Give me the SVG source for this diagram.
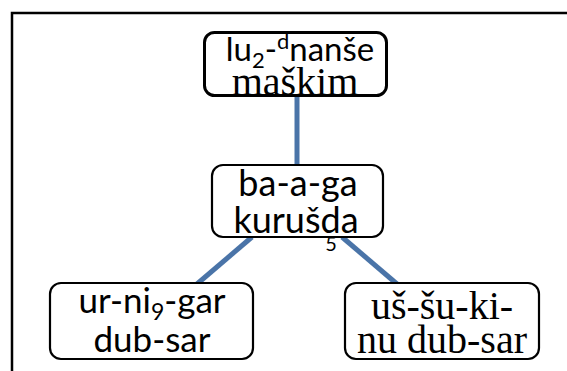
<svg xmlns="http://www.w3.org/2000/svg" width="567" height="371" viewBox="0 0 567 371">
  <style>
    .box { fill: #fff; stroke: #000; stroke-width: 2.2; }
    .box.main { stroke-width: 3; }
    .sans { font-family: Lato, "Open Sans", "Liberation Sans", sans-serif; fill: #000; text-anchor: middle; }
    .roman { font-family: "Liberation Serif", "DejaVu Serif", serif; fill: #000; text-anchor: middle; font-size: 40px; }
    .link { stroke: #4A74A8; stroke-width: 5; fill: none; }
  </style>

  <rect width="567" height="371" fill="#fff"/>
  <!-- outer frame (top and left edges) -->
  <path d="M12 371 V13 H567" fill="none" stroke="#000" stroke-width="2.5"/>

  <g id="connectors">
    <line class="link" x1="297" y1="96" x2="297" y2="166"/>
    <line class="link" x1="252" y1="237" x2="197" y2="284"/>
    <line class="link" x1="342" y1="237" x2="397" y2="284"/>
  </g>

  <g id="node-lu2-dnanse">
    <rect class="box main" x="204.5" y="32.5" width="182" height="63" rx="10"/>
    <text class="sans" x="300" y="61" font-size="33">lu<tspan font-size="22" dy="7">2</tspan><tspan dy="-7">-</tspan><tspan font-size="22" dy="-12">d</tspan><tspan dy="12">nanše</tspan></text>
    <text class="roman" x="295" y="95">maškim</text>
  </g>

  <g id="node-ba-a-ga">
    <rect class="box" x="212" y="165" width="171" height="72" rx="11"/>
    <text class="sans" x="298" y="196" font-size="36">ba-a-ga</text>
    <text class="sans" x="296" y="233" font-size="36">kurušda</text>
    <text class="sans" x="331" y="251" font-size="20">5</text>
  </g>

  <g id="node-ur-ni9-gar">
    <rect class="box" x="50" y="283" width="203" height="76" rx="11"/>
    <text class="sans" x="152" y="313" font-size="35">ur-ni<tspan font-size="23" dy="7">9</tspan><tspan dy="-7">-gar</tspan></text>
    <text class="sans" x="152" y="352" font-size="35">dub-sar</text>
  </g>

  <g id="node-ussu-kinu">
    <rect class="box" x="345" y="283" width="194" height="76" rx="11"/>
    <text class="roman" x="442" y="319">uš-šu-ki-</text>
    <text class="roman" x="442" y="353">nu dub-sar</text>
  </g>
</svg>
